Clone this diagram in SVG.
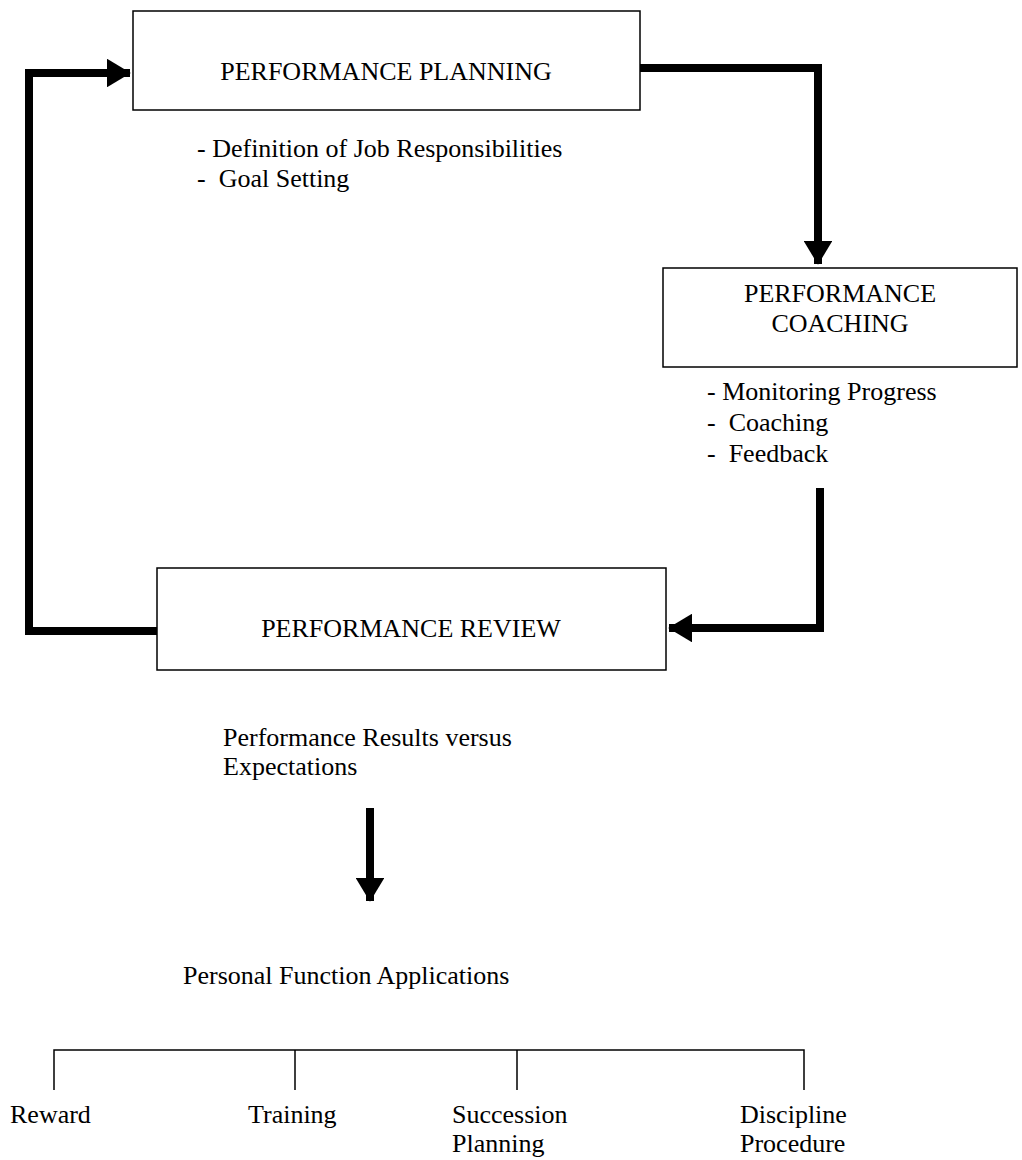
<svg xmlns="http://www.w3.org/2000/svg" width="1022" height="1160" viewBox="0 0 1022 1160">
<style>
text{font-family:"Liberation Serif","Times New Roman",serif;fill:#000;font-size:26px;white-space:pre}
.box{fill:#fff;stroke:#000;stroke-width:1.5}
.thick{fill:none;stroke:#000;stroke-width:8}
.thin{fill:none;stroke:#000;stroke-width:1.5}
</style>
<defs>
<marker id="ah" markerWidth="3" markerHeight="3.6" refX="2.9" refY="1.8" orient="auto" markerUnits="strokeWidth" viewBox="0 0 3 3.6">
<path d="M0,0 L3,1.8 L0,3.6 z" fill="#000"/>
</marker>
</defs>
<rect width="1022" height="1160" fill="#fff"/>
<g id="connectors">
<path class="thick" d="M29,631 L29,73 L130,73" marker-end="url(#ah)"/>
<path class="thick" d="M25,631 L157,631"/>
<path class="thick" d="M640,68 L818,68 L818,264" marker-end="url(#ah)"/>
<path class="thick" d="M820,488 L820,628 L669,628" marker-end="url(#ah)"/>
<path class="thick" d="M370,808 L370,901" marker-end="url(#ah)"/>
<path class="thin" d="M54,1090 L54,1050 L804,1050 L804,1090 M295,1050 L295,1090 M517,1050 L517,1090"/>
</g>
<g id="planning">
<rect class="box" x="133" y="11" width="507" height="99"/>
<text x="386" y="80" text-anchor="middle">PERFORMANCE PLANNING</text>
<text x="197" y="157">- Definition of Job Responsibilities</text>
<text x="197" y="187" xml:space="preserve">-  Goal Setting</text>
</g>
<g id="coaching">
<rect class="box" x="663" y="268" width="354" height="99"/>
<text x="840" y="302" text-anchor="middle">PERFORMANCE</text>
<text x="840" y="332" text-anchor="middle">COACHING</text>
<text x="707" y="400">- Monitoring Progress</text>
<text x="707" y="431" xml:space="preserve">-  Coaching</text>
<text x="707" y="462" xml:space="preserve">-  Feedback</text>
</g>
<g id="review">
<rect class="box" x="157" y="568" width="509" height="102"/>
<text x="411" y="637" text-anchor="middle">PERFORMANCE REVIEW</text>
<text x="223" y="746">Performance Results versus</text>
<text x="223" y="775">Expectations</text>
</g>
<g id="applications">
<text x="183" y="984">Personal Function Applications</text>
</g>
<g id="reward"><text x="10" y="1123">Reward</text></g>
<g id="training"><text x="248" y="1123">Training</text></g>
<g id="succession"><text x="452" y="1123">Succession</text><text x="452" y="1152">Planning</text></g>
<g id="discipline"><text x="740" y="1123">Discipline</text><text x="740" y="1152">Procedure</text></g>
</svg>
